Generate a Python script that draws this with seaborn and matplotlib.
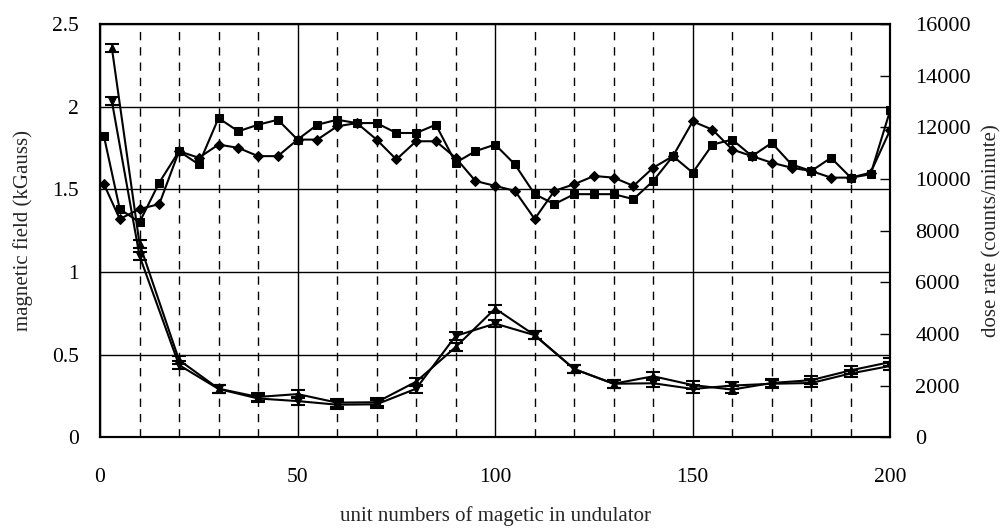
import matplotlib
matplotlib.use("Agg")
import matplotlib.pyplot as plt
import seaborn as sns
import numpy as np
import pandas as pd
from matplotlib.ticker import MultipleLocator

# ---------------- data ----------------
field_x = [1, 5, 10, 15, 20, 25, 30, 35, 40, 45, 50, 55, 60, 65, 70, 75, 80, 85, 90, 95,
           100, 105, 110, 115, 120, 125, 130, 135, 140, 145, 150, 155, 160, 165, 170, 175,
           180, 185, 190, 195, 200]
field_diamond = [1.53, 1.32, 1.38, 1.41, 1.73, 1.69, 1.77, 1.75, 1.70, 1.70, 1.80, 1.80, 1.88,
                 1.90, 1.80, 1.68, 1.79, 1.79, 1.69, 1.55, 1.52, 1.49, 1.32, 1.49, 1.53, 1.58,
                 1.57, 1.52, 1.63, 1.70, 1.91, 1.86, 1.74, 1.70, 1.66, 1.63, 1.61, 1.57, 1.57,
                 1.60, 1.86]
field_square = [1.82, 1.38, 1.30, 1.54, 1.73, 1.65, 1.93, 1.85, 1.89, 1.92, 1.80, 1.89, 1.92,
                1.90, 1.90, 1.84, 1.84, 1.89, 1.66, 1.73, 1.77, 1.65, 1.47, 1.41, 1.47, 1.47,
                1.47, 1.44, 1.55, 1.70, 1.60, 1.77, 1.80, 1.70, 1.78, 1.65, 1.61, 1.69, 1.57,
                1.59, 1.98]

dose_x = [3, 10, 20, 30, 40, 50, 60, 70, 80, 90, 100, 110, 120, 130, 140, 150, 160, 170,
          180, 190, 200]
dose_up = [15070, 7490, 2990, 1880, 1560, 1670, 1340, 1355, 2150, 3490, 4980, 3950, 2640,
           2070, 2360, 2020, 1845, 2100, 2210, 2590, 2910]
dose_down = [13010, 7020, 2795, 1870, 1500, 1400, 1260, 1275, 1880, 3920, 4400, 3950, 2640,
             2070, 2090, 1870, 2000, 2070, 2100, 2470, 2760]
dose_err = [150] * len(dose_x)

x_ticks = [0, 50, 100, 150, 200]
left_ticks = [0, 0.5, 1, 1.5, 2, 2.5]
left_tick_labels = ["0", "0.5", "1", "1.5", "2", "2.5"]
right_ticks = [0, 2000, 4000, 6000, 8000, 10000, 12000, 14000, 16000]

x_label = "unit numbers of magetic in undulator"
left_label = "magnetic field (kGauss)"
right_label = "dose rate (counts/minute)"

# ---------------- style ----------------
sns.set_theme(style="white")
plt.rcParams["font.family"] = ["Liberation Serif", "DejaVu Serif"]
plt.rcParams["axes.edgecolor"] = "black"

fig = plt.figure(figsize=(10.06, 5.30), dpi=100)
ax = fig.add_axes([0.0994, 0.175, 0.7856, 0.78])
ax2 = ax.twinx()

field_df = pd.DataFrame({"x": field_x, "diamond": field_diamond, "square": field_square})
dose_df = pd.DataFrame({"x": dose_x, "up": dose_up, "down": dose_down, "err": dose_err})

# grid
ax.set_xlim(0, 200)
ax.set_ylim(0, 2.5)
ax.xaxis.set_major_locator(MultipleLocator(50))
ax.xaxis.set_minor_locator(MultipleLocator(10))
ax.set_yticks(left_ticks)
ax.set_yticklabels(left_tick_labels)
ax.grid(which="major", axis="both", color="black", linewidth=1.0)
ax.grid(which="minor", axis="x", color="black", linewidth=1.0, linestyle=(0, (6, 5)))
ax.set_axisbelow(True)

sns.lineplot(data=field_df, x="x", y="diamond", ax=ax, color="black", marker="D",
             markersize=5.5, markeredgecolor="black", linewidth=1.5, zorder=3)
sns.lineplot(data=field_df, x="x", y="square", ax=ax, color="black", marker="s",
             markersize=5.5, markeredgecolor="black", linewidth=1.5, zorder=3)

ax2.set_ylim(0, 16000)
ax2.set_yticks(right_ticks)
sns.lineplot(data=dose_df, x="x", y="up", ax=ax2, color="black", marker="^",
             markersize=6, markeredgecolor="black", linewidth=1.5)
sns.lineplot(data=dose_df, x="x", y="down", ax=ax2, color="black", marker="v",
             markersize=6, markeredgecolor="black", linewidth=1.5)
ax2.errorbar(dose_df["x"], dose_df["up"], yerr=dose_df["err"], fmt="none",
             ecolor="black", capsize=5, elinewidth=1.2, capthick=1.5)
ax2.errorbar(dose_df["x"], dose_df["down"], yerr=dose_df["err"], fmt="none",
             ecolor="black", capsize=5, elinewidth=1.2, capthick=1.5)
ax2.grid(False)

# ticks and labels
ax.set_xticks(x_ticks)
ax.tick_params(axis="x", which="both", length=0, pad=22, labelsize=15.5, colors="black")
ax.tick_params(axis="y", which="both", length=0, pad=15, labelsize=15.5, colors="black")
ax2.tick_params(axis="y", direction="in", length=7, width=1, pad=18, labelsize=16,
                colors="black")

ax.set_xlabel(x_label, fontsize=15, labelpad=14)
ax.set_ylabel(left_label, fontsize=15, labelpad=14)
ax2.set_ylabel(right_label, fontsize=15, labelpad=8, rotation=90)

for a in (ax, ax2):
    for s in a.spines.values():
        s.set_color("black")
        s.set_linewidth(1.5)

fig.savefig("out.png", dpi=100, facecolor="white")
